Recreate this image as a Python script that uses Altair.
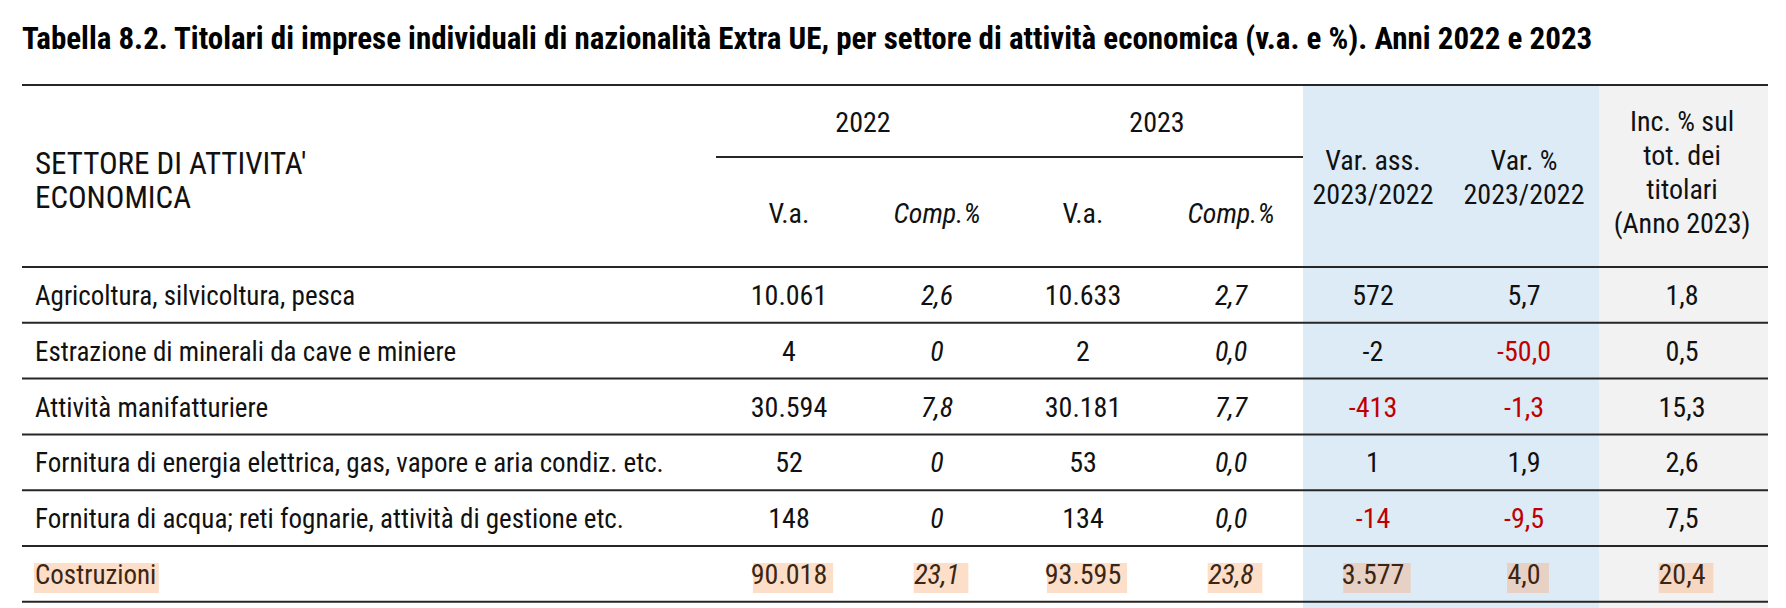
import altair as alt
import pandas as pd

# ---------------- data ----------------
title_text = ("Tabella 8.2. Titolari di imprese individuali di nazionalità Extra UE, "
              "per settore di attività economica (v.a. e %). Anni 2022 e 2023")
sectors = [
    "Agricoltura, silvicoltura, pesca",
    "Estrazione di minerali da cave e miniere",
    "Attività manifatturiere",
    "Fornitura di energia elettrica, gas, vapore e aria condiz. etc.",
    "Fornitura di acqua; reti fognarie, attività di gestione etc.",
    "Costruzioni",
]
va_2022 = [10061, 4, 30594, 52, 148, 90018]
comp_2022 = [2.6, 0, 7.8, 0, 0, 23.1]
va_2023 = [10633, 2, 30181, 53, 134, 93595]
comp_2023 = [2.7, 0.0, 7.7, 0.0, 0.0, 23.8]
var_ass = [572, -2, -413, 1, -14, 3577]
var_pct = [5.7, -50.0, -1.3, 1.9, -9.5, 4.0]
inc_pct = [1.8, 0.5, 15.3, 2.6, 7.5, 20.4]
# cells printed in red in the source
var_ass_red = [False, False, True, False, True, False]
var_pct_red = [False, True, True, False, True, False]
highlight_sector = "Costruzioni"

header_left = ["SETTORE DI ATTIVITA'", "ECONOMICA"]
year_labels = ["2022", "2023"]
sub_labels = ["V.a.", "Comp.%", "V.a.", "Comp.%"]
var_ass_head = ["Var. ass.", "2023/2022"]
var_pct_head = ["Var. %", "2023/2022"]
inc_head = ["Inc. % sul", "tot. dei", "titolari", "(Anno 2023)"]

# ---------------- formatting ----------------
def fmt_int(v):
    s = f"{abs(v):,}".replace(",", ".")
    return ("-" if v < 0 else "") + s

def fmt_dec(v):
    return f"{v:.1f}".replace(".", ",")

def fmt_comp22(v):
    return "0" if v == 0 else fmt_dec(v)

# ---------------- layout / style ----------------
FONT = "Liberation Sans Narrow, Arial Narrow, Roboto Condensed, DejaVu Sans Condensed, sans-serif"
FS = 28          # numbers
LABEL_FS = 27    # sector labels
HEADL_FS = 31    # upper-case header at left
TITLE_FS = 31
BLACK = "#111111"
RED = "#c00000"
BROWN = "#3b2615"
LINE = "#262626"
BLUE_BG = "#ddebf7"
GRAY_BG = "#f2f2f2"

LEFT, RIGHT = 22, 1768
TOP_LINE, HEAD_BOTTOM, ROW_H = 85, 267, 55.8
LABEL_X = 35
col_x = {"va22": 789, "c22": 937, "va23": 1083, "c23": 1231,
         "vass": 1373, "vpct": 1524, "inc": 1682}
BLUE_X = (1303, 1599)
GRAY_X = (1599, 1768)

# approximate advance widths (em) for the highlight boxes
_w = {"0": .456, "1": .456, "2": .456, "3": .456, "4": .456, "5": .456, "6": .456,
      "7": .456, "8": .456, "9": .456, ".": .228, ",": .228, "-": .273, "C": .592,
      "o": .456, "s": .41, "t": .228, "r": .273, "u": .456, "z": .41, "i": .182, "n": .456}

def text_w(s, size=FS):
    return sum(_w.get(c, .45) for c in s) * size

row_center = [HEAD_BOTTOM + ROW_H * (i + 0.5) for i in range(len(sectors))]
BASE = 10  # baseline offset from cap-centre

columns = [
    ("va22", va_2022, fmt_int, False, None, "#fddec8"),
    ("c22", comp_2022, fmt_comp22, True, None, "#fddec8"),
    ("va23", va_2023, fmt_int, False, None, "#fddec8"),
    ("c23", comp_2023, fmt_dec, True, None, "#fddec8"),
    ("vass", var_ass, fmt_int, False, var_ass_red, "#e6d1c4"),
    ("vpct", var_pct, fmt_dec, False, var_pct_red, "#e6d1c4"),
    ("inc", inc_pct, fmt_dec, False, None, "#f6d7c2"),
]

normal_cells, italic_cells, label_cells, boxes = [], [], [], []
for i, sec in enumerate(sectors):
    hl = sec == highlight_sector
    yc = row_center[i]
    label_cells.append({"x": LABEL_X, "y": yc + BASE, "text": sec,
                        "color": BROWN if hl else BLACK})
    if hl:
        boxes.append({"x": LABEL_X - 1, "x2": LABEL_X + text_w(sec, 28) + 9,
                      "y": yc - 11, "y2": yc + 19, "color": "#fddec8"})
    for key, vals, f, ital, red, hlcol in columns:
        t = f(vals[i])
        color = BROWN if hl else (RED if (red is not None and red[i]) else BLACK)
        rec = {"x": col_x[key], "y": yc + BASE, "text": t, "color": color}
        (italic_cells if ital else normal_cells).append(rec)
        if hl:
            w = text_w(t)
            boxes.append({"x": col_x[key] - w / 2 - 1, "x2": col_x[key] + w / 2 + 9,
                          "y": yc - 11, "y2": yc + 19, "color": hlcol})

# header texts
head_center, head_italic, head_left = [], [], []
for j, t in enumerate(header_left):
    head_left.append({"x": LABEL_X, "y": 174 + 34 * j, "text": t, "color": BLACK})
head_center.append({"x": (col_x["va22"] + col_x["c22"]) / 2, "y": 132, "text": year_labels[0], "color": BLACK})
head_center.append({"x": (col_x["va23"] + col_x["c23"]) / 2, "y": 132, "text": year_labels[1], "color": BLACK})
for key, t in zip(["va22", "c22", "va23", "c23"], sub_labels):
    rec = {"x": col_x[key], "y": 223, "text": t, "color": BLACK}
    (head_italic if t.startswith("Comp") else head_center).append(rec)
for j, t in enumerate(var_ass_head):
    head_center.append({"x": col_x["vass"], "y": 170 + 34 * j, "text": t, "color": BLACK})
for j, t in enumerate(var_pct_head):
    head_center.append({"x": col_x["vpct"], "y": 170 + 34 * j, "text": t, "color": BLACK})
for j, t in enumerate(inc_head):
    head_center.append({"x": col_x["inc"], "y": 131 + 34 * j, "text": t, "color": BLACK})

bg = pd.DataFrame([
    {"x": BLUE_X[0], "x2": BLUE_X[1], "y": TOP_LINE, "y2": 608, "color": BLUE_BG},
    {"x": GRAY_X[0], "x2": GRAY_X[1], "y": TOP_LINE, "y2": 608, "color": GRAY_BG},
])
lines = [{"x": LEFT, "x2": RIGHT, "y": TOP_LINE},
         {"x": 716, "x2": BLUE_X[0], "y": 157},
         {"x": LEFT, "x2": RIGHT, "y": HEAD_BOTTOM}]
for i in range(len(sectors)):
    lines.append({"x": LEFT, "x2": RIGHT, "y": HEAD_BOTTOM + ROW_H * (i + 1)})
lines_df = pd.DataFrame(lines)

xs = alt.Scale(domain=[8, 1778], nice=False, zero=False)
ys = alt.Scale(domain=[8, 608], nice=False, zero=False, reverse=True)

def enc_text():
    return dict(x=alt.X("x:Q", scale=xs, axis=None),
                y=alt.Y("y:Q", scale=ys, axis=None),
                text=alt.Text("text:N"),
                color=alt.Color("color:N", scale=None, legend=None))

def text_layer(rows, align, style="normal", weight="normal", size=FS):
    return alt.Chart(pd.DataFrame(rows)).mark_text(
        align=align, baseline="alphabetic", font=FONT, fontSize=size,
        fontStyle=style, fontWeight=weight).encode(**enc_text())

bg_layer = alt.Chart(bg).mark_rect().encode(
    x=alt.X("x:Q", scale=xs, axis=None), x2="x2",
    y=alt.Y("y:Q", scale=ys, axis=None), y2="y2",
    color=alt.Color("color:N", scale=None, legend=None))
box_layer = alt.Chart(pd.DataFrame(boxes)).mark_rect().encode(
    x=alt.X("x:Q", scale=xs, axis=None), x2="x2",
    y=alt.Y("y:Q", scale=ys, axis=None), y2="y2",
    color=alt.Color("color:N", scale=None, legend=None))
rule_layer = alt.Chart(lines_df).mark_rule(color=LINE, strokeWidth=2).encode(
    x=alt.X("x:Q", scale=xs, axis=None), x2="x2",
    y=alt.Y("y:Q", scale=ys, axis=None))

title_layer = text_layer([{"x": LEFT, "y": 49, "text": title_text, "color": "#000000"}],
                         "left", weight="bold", size=TITLE_FS)

chart = alt.layer(
    bg_layer, box_layer, rule_layer, title_layer,
    text_layer(head_left, "left", size=HEADL_FS),
    text_layer(head_center, "center"),
    text_layer(head_italic, "center", style="italic"),
    text_layer(label_cells, "left", size=LABEL_FS),
    text_layer(normal_cells, "center"),
    text_layer(italic_cells, "center", style="italic"),
).properties(width=1770, height=600, padding=0).configure_view(stroke=None)

chart.save("out.html", embed_options={"renderer": "svg", "actions": False})
